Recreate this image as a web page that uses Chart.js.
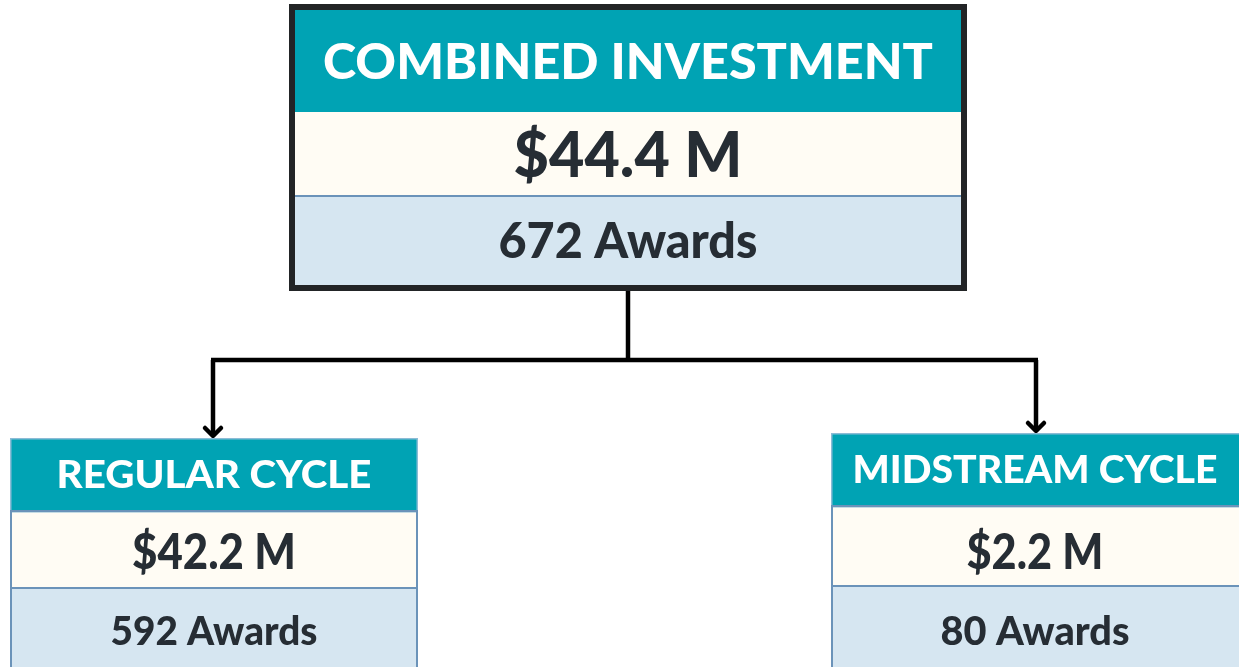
<!DOCTYPE html>
<html>
<head>
<meta charset="utf-8">
<script src="https://cdn.jsdelivr.net/npm/chart.js@4.4.1/dist/chart.umd.min.js"></script>
<style>
  html, body { margin: 0; padding: 0; background: #ffffff; }
  #wrap { position: relative; width: 1239px; height: 667px; }
</style>
</head>
<body>
<div id="wrap"><canvas id="c"></canvas></div>
<script>
// ---- data ----
const nodeTitles  = ['COMBINED INVESTMENT', 'REGULAR CYCLE', 'MIDSTREAM CYCLE'];
const nodeAmounts = [44.4, 42.2, 2.2];     // $ millions
const nodeAwards  = [672, 592, 80];        // number of awards
const nodeParent  = [null, 0, 0];

// ---- layout (plot units = pixels of the 1239x667 frame) ----
const layout = [
  { x0: 289, x1: 967, cx: 628, y0: 4,   head: [10, 112],  amt: [112, 196], awd: [196, 285], bottom: 291, heavy: true,
    tW: 610, tCap: 36, aW: 229, aCap: 45, wW: 259, wCap: 35, aOff: 0, wOff: 0 },
  { x0: 10,  x1: 418, cx: 214, y0: 438, head: [438, 511], amt: [511, 588], awd: [588, 667], bottom: 667, heavy: false,
    tW: 315, tCap: 27, aW: 164, aCap: 35, wW: 207, wCap: 29, aOff: 1.5, wOff: 3 },
  { x0: 831, x1: 1242, cx: 1035, y0: 433, head: [433, 506], amt: [506, 586], awd: [586, 667], bottom: 667, heavy: false,
    tW: 365, tCap: 27, aW: 137, aCap: 35, wW: 189, wCap: 29, aOff: 5, wOff: 4 }
];
const busY = 360;
const arrowX = [null, 213, 1036];

const colors = {
  teal: '#00a3b4', cream: '#fffcf4', blue: '#d6e6f1', text: '#262d34',
  frame: '#222426', divider: '#6b93b9', thin: '#8cbcd6', line: '#000000'
};
const FONT = 'Lato, "Open Sans", sans-serif';

function drawText(ctx, txt, cx, cy, cap, targetW, color) {
  const size = cap / 0.72;
  ctx.save();
  ctx.font = '900 ' + size + 'px ' + FONT;
  ctx.fillStyle = color;
  ctx.textAlign = 'center';
  ctx.textBaseline = 'alphabetic';
  const w = ctx.measureText(txt).width;
  let s = targetW / w;
  s = Math.max(0.8, Math.min(1.3, s));
  ctx.translate(cx, cy + cap / 2);
  ctx.scale(s, 1);
  ctx.fillText(txt, 0, 0);
  ctx.restore();
}

const orgPlugin = {
  id: 'orgChart',
  afterDatasetsDraw(chart) {
    const ctx = chart.ctx;
    const xs = chart.scales.x, ys = chart.scales.y;
    const X = v => xs.getPixelForValue(v);
    const Y = v => ys.getPixelForValue(v);

    // connectors
    ctx.save();
    ctx.strokeStyle = colors.line;
    ctx.lineWidth = 4.5;
    ctx.lineCap = 'butt';
    const root = layout[0];
    ctx.beginPath();
    ctx.moveTo(X(root.cx), Y(root.bottom));
    ctx.lineTo(X(root.cx), Y(busY));
    ctx.stroke();
    const kids = nodeParent.map((p, i) => p === 0 ? i : null).filter(v => v !== null);
    const xsArr = kids.map(i => arrowX[i]);
    ctx.beginPath();
    ctx.moveTo(X(Math.min(...xsArr)) - 2, Y(busY));
    ctx.lineTo(X(Math.max(...xsArr)) + 2, Y(busY));
    ctx.stroke();
    kids.forEach(i => {
      const ax = X(arrowX[i]);
      const tip = Y(layout[i].y0) - 1;
      ctx.beginPath();
      ctx.moveTo(ax, Y(busY));
      ctx.lineTo(ax, tip - 2);
      ctx.stroke();
      ctx.save();
      ctx.lineCap = 'round';
      ctx.lineJoin = 'round';
      ctx.lineWidth = 4.5;
      ctx.beginPath();
      ctx.moveTo(ax - 8, tip - 9);
      ctx.lineTo(ax, tip - 1);
      ctx.lineTo(ax + 8, tip - 9);
      ctx.stroke();
      ctx.restore();
    });
    ctx.restore();

    // boxes
    nodeTitles.forEach((title, i) => {
      const L = layout[i];
      const x0 = X(L.x0), x1 = X(L.x1);
      ctx.save();
      if (L.heavy) {
        ctx.fillStyle = colors.frame;
        ctx.fillRect(x0, Y(L.y0), x1 - x0, Y(L.bottom) - Y(L.y0));
        const ix0 = x0 + 6, ix1 = x1 - 6;
        ctx.fillStyle = colors.teal;  ctx.fillRect(ix0, Y(L.head[0]), ix1 - ix0, Y(L.head[1]) - Y(L.head[0]));
        ctx.fillStyle = colors.cream; ctx.fillRect(ix0, Y(L.amt[0]),  ix1 - ix0, Y(L.amt[1]) - Y(L.amt[0]));
        ctx.fillStyle = colors.blue;  ctx.fillRect(ix0, Y(L.awd[0]),  ix1 - ix0, Y(L.awd[1]) - Y(L.awd[0]));
        ctx.fillStyle = colors.divider;
        ctx.fillRect(ix0, Y(L.awd[0]) - 1, ix1 - ix0, 2);
      } else {
        ctx.fillStyle = colors.teal;  ctx.fillRect(x0, Y(L.head[0]), x1 - x0, Y(L.head[1]) - Y(L.head[0]));
        ctx.fillStyle = colors.cream; ctx.fillRect(x0, Y(L.amt[0]),  x1 - x0, Y(L.amt[1]) - Y(L.amt[0]));
        ctx.fillStyle = colors.blue;  ctx.fillRect(x0, Y(L.awd[0]),  x1 - x0, Y(L.awd[1]) - Y(L.awd[0]));
        ctx.strokeStyle = colors.thin; ctx.lineWidth = 1.5;
        ctx.strokeRect(x0 + 0.75, Y(L.head[0]) + 0.75, x1 - x0 - 1.5, Y(L.head[1]) - Y(L.head[0]));
        ctx.strokeStyle = colors.divider; ctx.lineWidth = 2;
        ctx.strokeRect(x0 + 1, Y(L.amt[0]), x1 - x0 - 2, Y(L.amt[1]) - Y(L.amt[0]));
        ctx.strokeRect(x0 + 1, Y(L.awd[0]), x1 - x0 - 2, Y(L.awd[1]) - Y(L.awd[0]) + 4);
      }
      ctx.restore();
      const cx = X(L.cx);
      drawText(ctx, title, cx, Y((L.head[0] + L.head[1]) / 2), L.tCap, L.tW, '#ffffff');
      drawText(ctx, '$' + nodeAmounts[i].toFixed(1) + ' M', cx, Y((L.amt[0] + L.amt[1]) / 2 + L.aOff), L.aCap, L.aW, colors.text);
      drawText(ctx, nodeAwards[i] + ' Awards', cx, Y((L.awd[0] + L.awd[1]) / 2 + L.wOff), L.wCap, L.wW, colors.text);
    });
  }
};

new Chart(document.getElementById('c'), {
  type: 'scatter',
  data: { datasets: [{ data: [], pointRadius: 0 }] },
  options: {
    responsive: true,
    maintainAspectRatio: false,
    animation: false,
    layout: { padding: 0 },
    plugins: { legend: { display: false }, tooltip: { enabled: false } },
    scales: {
      x: { type: 'linear', min: 0, max: 1239, display: false },
      y: { type: 'linear', min: 0, max: 667, reverse: true, display: false }
    }
  },
  plugins: [orgPlugin]
});
</script>
</body>
</html>
